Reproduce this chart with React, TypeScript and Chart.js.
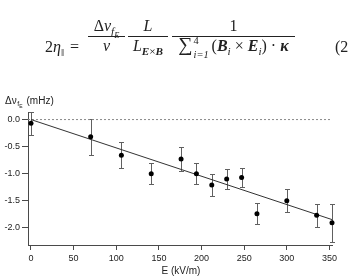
import React, { useEffect, useRef } from "react";
import { Chart, registerables } from "chart.js";

Chart.register(...registerables);

// Frequency shift of the f_E component versus applied electric field
const fieldKVm = [0, 70, 106, 141, 176, 194, 212, 229.5, 247, 265, 300, 335, 353];
const shiftMHz = [-0.07, -0.32, -0.66, -1.0, -0.73, -1.0, -1.21, -1.1, -1.07, -1.74, -1.5, -1.77, -1.91];
const errMHz = [0.21, 0.33, 0.24, 0.2, 0.22, 0.19, 0.2, 0.18, 0.17, 0.2, 0.21, 0.21, 0.35];

// Straight-line fit through the origin
const fitE = [0, 353];
const fitShift = [0, -1.85];

const xTicks = [0, 50, 100, 150, 200, 250, 300, 350];
const yTicks = [0, -0.5, -1, -1.5, -2];
const xRange = [-3.5, 353];
const yRange = [-2.32, 0.14];

const xTitle = "E (kV/m)";

const AXIS_COLOR = "#4a4a4a";
const TEXT_COLOR = "#222";
const SANS = '"Liberation Sans", Arial, sans-serif';
const SERIF = '"Liberation Serif", "Times New Roman", serif';

const errorBars = {
  id: "errorBars",
  beforeDatasetsDraw(chart: any) {
    const xs = chart.scales.x;
    const ys = chart.scales.y;
    const ctx = chart.ctx as CanvasRenderingContext2D;
    ctx.save();
    ctx.strokeStyle = "#606060";
    ctx.lineWidth = 1;
    fieldKVm.forEach((e, i) => {
      const px = Math.round(xs.getPixelForValue(e)) + 0.5;
      const top = Math.round(ys.getPixelForValue(shiftMHz[i] + errMHz[i])) + 0.5;
      const bot = Math.round(ys.getPixelForValue(shiftMHz[i] - errMHz[i])) + 0.5;
      ctx.beginPath();
      ctx.moveTo(px, top);
      ctx.lineTo(px, bot);
      ctx.moveTo(px - 2.5, top);
      ctx.lineTo(px + 2.5, top);
      ctx.moveTo(px - 2.5, bot);
      ctx.lineTo(px + 2.5, bot);
      ctx.stroke();
    });
    ctx.restore();
  },
};

const axisTitles = {
  id: "axisTitles",
  afterDraw(chart: any) {
    const ctx = chart.ctx as CanvasRenderingContext2D;
    ctx.save();
    ctx.fillStyle = TEXT_COLOR;
    ctx.textBaseline = "alphabetic";
    ctx.textAlign = "center";
    ctx.font = `10px ${SANS}`;
    ctx.fillText(xTitle, 181, 273.5);

    // Δν with a nested f_E subscript, then the unit
    ctx.textAlign = "left";
    ctx.font = `10px ${SANS}`;
    ctx.fillText("Δν", 5, 103.5);
    const w = ctx.measureText("Δν").width;
    ctx.font = `7px ${SANS}`;
    ctx.fillText("f", 5 + w + 0.5, 105.5);
    const wf = ctx.measureText("f").width;
    ctx.font = `5px ${SANS}`;
    ctx.fillText("E", 5 + w + 0.5 + wf + 0.2, 107.5);
    ctx.font = `10px ${SANS}`;
    ctx.fillText("(mHz)", 26.5, 103.5);
    ctx.restore();
  },
};

function Frac(props: { left: number; width: number; num: React.ReactNode; den: React.ReactNode }) {
  const { left, width, num, den } = props;
  const row: React.CSSProperties = {
    position: "absolute",
    left,
    width,
    textAlign: "center",
    lineHeight: "16px",
    whiteSpace: "nowrap",
  };
  return (
    <>
      <div style={{ ...row, top: 18 }}>{num}</div>
      <div style={{ position: "absolute", left, width, top: 36, height: 0, borderTop: "1px solid #222" }} />
      <div style={{ ...row, top: 38 }}>{den}</div>
    </>
  );
}

const sub: React.CSSProperties = { fontSize: "0.7em", verticalAlign: "-0.35em", lineHeight: 0 };
const bi: React.CSSProperties = { fontWeight: "bold", fontStyle: "italic" };
const it: React.CSSProperties = { fontStyle: "italic" };

function Equation() {
  return (
    <div
      style={{
        position: "absolute",
        left: 0,
        top: 0,
        width: 348,
        height: 70,
        fontFamily: SERIF,
        fontSize: 16,
        color: "#222",
      }}
    >
      <div style={{ position: "absolute", left: 45, top: 39, lineHeight: "16px", whiteSpace: "nowrap" }}>
        2<span style={it}>η</span>
        <span style={sub}>‖</span>
        <span style={{ marginLeft: 6 }}>=</span>
      </div>
      <Frac
        left={88}
        width={37}
        num={
          <span>
            Δ<span style={it}>ν</span>
            <span style={{ ...sub, ...it }}>
              f<span style={{ fontSize: "0.75em", verticalAlign: "-0.3em" }}>E</span>
            </span>
          </span>
        }
        den={<span style={it}>ν</span>}
      />
      <Frac
        left={128}
        width={40}
        num={<span style={it}>L</span>}
        den={
          <span>
            <span style={it}>L</span>
            <span style={sub}>
              <span style={bi}>E</span>×<span style={bi}>B</span>
            </span>
          </span>
        }
      />
      <Frac
        left={172}
        width={123}
        num={<span>1</span>}
        den={
          <span>
            <span style={{ fontSize: "1.25em", lineHeight: 0 }}>∑</span>
            <span style={{ display: "inline-block", position: "relative", width: 19, height: 1 }}>
              <span style={{ position: "absolute", left: 1, top: -17, fontSize: "0.65em" }}>4</span>
              <span style={{ position: "absolute", left: 1, top: -3, fontSize: "0.65em", fontStyle: "italic" }}>i=1</span>
            </span>
            (<span style={bi}>B</span>
            <span style={{ ...sub, ...it }}>i</span> × <span style={bi}>E</span>
            <span style={{ ...sub, ...it }}>i</span>) · <span style={bi}>κ</span>
          </span>
        }
      />
      <div style={{ position: "absolute", left: 335, top: 39, lineHeight: "16px", whiteSpace: "nowrap" }}>(2)</div>
    </div>
  );
}

export default function App() {
  const canvasRef = useRef<HTMLCanvasElement | null>(null);

  useEffect(() => {
    const canvas = canvasRef.current;
    if (!canvas) return;
    const chart = new Chart(canvas, {
      type: "scatter",
      data: {
        datasets: [
          {
            label: "shift",
            data: fieldKVm.map((x, i) => ({ x, y: shiftMHz[i] })),
            pointRadius: 2.5,
            pointBackgroundColor: "#000",
            pointBorderWidth: 0,
            showLine: false,
            clip: false as any,
          },
          {
            label: "fit",
            type: "line" as any,
            data: fitE.map((x, i) => ({ x, y: fitShift[i] })),
            borderColor: "#333",
            borderWidth: 1,
            pointRadius: 0,
            fill: false,
          },
          {
            label: "zero",
            type: "line" as any,
            data: xRange.map((x) => ({ x, y: 0 })),
            borderColor: "#888",
            borderWidth: 1,
            borderDash: [2, 2],
            pointRadius: 0,
            fill: false,
          },
        ],
      },
      options: {
        animation: false,
        responsive: false,
        devicePixelRatio: 1,
        layout: { padding: { top: 112, right: 16, bottom: 0, left: 0 } },
        plugins: { legend: { display: false }, tooltip: { enabled: false } },
        scales: {
          x: {
            type: "linear",
            min: xRange[0],
            max: xRange[1],
            afterFit: (s: any) => {
              s.height = 32;
            },
            afterBuildTicks: (s: any) => {
              s.ticks = xTicks.map((v) => ({ value: v }));
            },
            ticks: {
              font: { family: SANS, size: 9 },
              color: TEXT_COLOR,
              padding: 3,
              autoSkip: false,
              maxRotation: 0,
              callback: (v: any) => String(v),
            },
            grid: { display: true, drawOnChartArea: false, drawTicks: true, tickLength: 5, color: AXIS_COLOR },
            border: { display: true, color: AXIS_COLOR, width: 1 },
          },
          y: {
            type: "linear",
            min: yRange[0],
            max: yRange[1],
            afterFit: (s: any) => {
              s.width = 28;
            },
            afterBuildTicks: (s: any) => {
              s.ticks = yTicks.map((v) => ({ value: v }));
            },
            ticks: {
              font: { family: SANS, size: 9 },
              color: TEXT_COLOR,
              padding: 2,
              autoSkip: false,
              callback: (v: any) => Number(v).toFixed(1),
            },
            grid: { display: true, drawOnChartArea: false, drawTicks: true, tickLength: 6, color: AXIS_COLOR },
            border: { display: true, color: AXIS_COLOR, width: 1 },
          },
        },
      },
      plugins: [errorBars, axisTitles],
    });
    return () => chart.destroy();
  }, []);

  return (
    <div
      style={{
        position: "fixed",
        left: 0,
        top: 0,
        width: 348,
        height: 277,
        overflow: "hidden",
        background: "#fff",
      }}
    >
      <canvas
        ref={canvasRef}
        width={348}
        height={277}
        style={{ position: "absolute", left: 0, top: 0, width: 348, height: 277 }}
      />
      <Equation />
    </div>
  );
}
